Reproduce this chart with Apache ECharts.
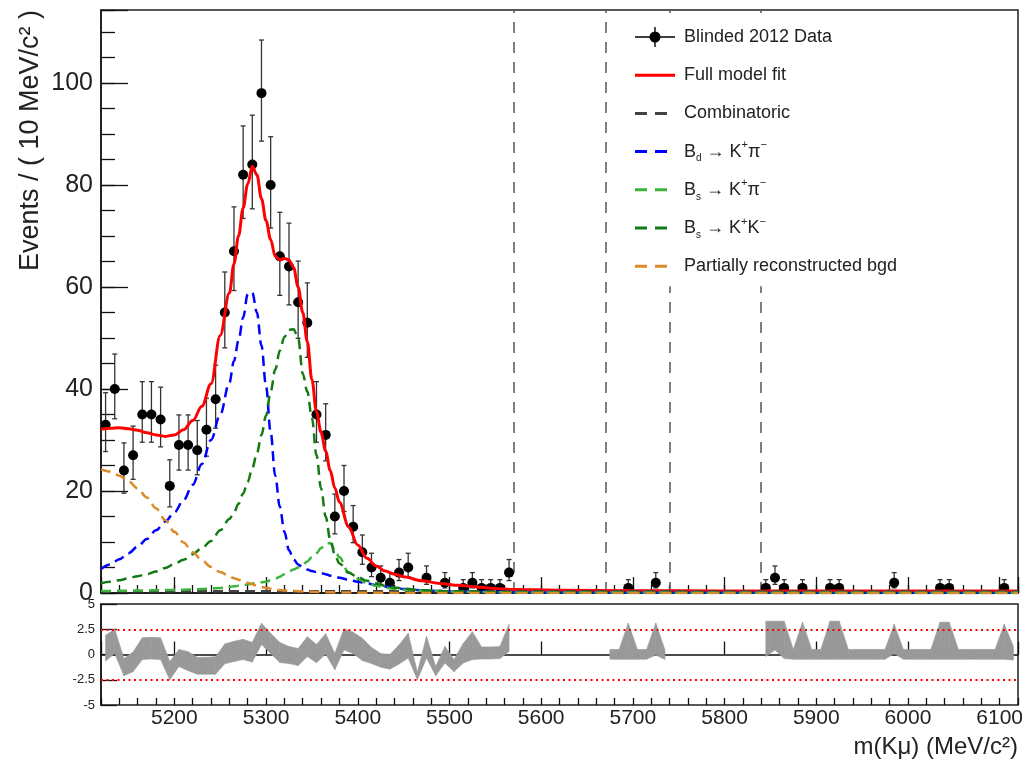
<!DOCTYPE html>
<html>
<head>
<meta charset="utf-8">
<script src="https://cdn.jsdelivr.net/npm/echarts@6/dist/echarts.min.js"></script>
<style>
html, body { margin: 0; padding: 0; background: #fff; }
#main { width: 1022px; height: 761px; }
</style>
</head>
<body>
<div id="main"></div>
<script>
var FONT = '"Liberation Sans", Arial, Helvetica, sans-serif';

// histogram: 10 MeV bins from 5120 to 6120, null = blinded bin
var binWidth = 10;
var firstBin = 5125;
var counts = [
  33, 40, 24, 27, 35, 35, 34, 21, 29, 29,
  28, 32, 38, 55, 67, 82, 84, 98, 80, 66,
  64, 57, 53, 35, 31, 15, 20, 13, 8, 5,
  3, 2, 4, 5, 0, 3, 0, 2, 0, 1,
  2, 1, 1, 1, 4,
  null, null, null, null, null, null, null, null, null, null,
  0, 0, 1, 0, 0, 2, 0,
  null, null, null, null, null, null, null, null, null, null,
  1, 3, 1, 0, 1, 0, 0, 1, 1, 0,
  0, 0, 0, 0, 2, 0, 0, 0, 0, 1,
  1, 0, 0, 0, 0, 0, 1, 0
];

// pull band (upper / lower edge) per bin
var pullHi = [
  1.9, 2.5, -0.4, 0.25, 1.65, 1.7, 1.65, -0.7, 0.5, 0.28,
  -0.28, -0.28, -0.22, 1.05, 1.3, 1.5, 1.2, 3.1, 2.1, 1.2,
  0.8, 0.6, 1.75, 1.0, 2.05, 0.1, 2.55, 2.2, 1.6, 0.7,
  0.1, 0.0, 0.95, 2.1, -1.75, 1.8, -1.2, 0.8, -0.5, 1.1,
  2.25, 0.75, 0.75, 0.8, 3.0,
  null, null, null, null, null, null, null, null, null, null,
  0.5, 0.5, 3.1, 0.5, 0.5, 3.1, 0.45,
  null, null, null, null, null, null, null, null, null, null,
  3.3, 3.3, 3.3, 0.5, 3.2, 0.5, 0.5, 3.3, 3.3, 0.5,
  0.5, 0.5, 0.5, 0.5, 3.0, 0.5, 0.5, 0.5, 0.5, 3.2,
  3.2, 0.5, 0.5, 0.5, 0.5, 0.5, 3.0, 0.8
];
var pullLo = [
  -0.65, 0.1, -2.1, -1.7, -0.5, -0.45, -0.5, -2.5, -1.2, -1.6,
  -1.95, -1.95, -1.95, -0.92, -0.7, -0.5, -0.75, 1.0, 0.1, -0.8,
  -0.9, -1.1, -0.2, -0.82, 0.05, -1.5, 0.45, 0.1, -0.6, -0.9,
  -1.25, -1.45, -0.95, -0.35, -2.5, -0.35, -2.1, -0.85, -1.7, -0.85,
  -0.5, -0.45, -0.45, -0.4, 0.3,
  null, null, null, null, null, null, null, null, null, null,
  -0.47, -0.47, -0.47, -0.47, -0.47, -0.05, -0.5,
  null, null, null, null, null, null, null, null, null, null,
  -0.2, 0.45, -0.4, -0.47, -0.47, -0.47, -0.47, -0.47, -0.47, -0.47,
  -0.47, -0.47, -0.47, -0.47, 0.1, -0.47, -0.47, -0.47, -0.47, -0.47,
  -0.47, -0.47, -0.47, -0.47, -0.47, -0.47, -0.47, -0.55
];

// fit curves, sampled at curveMass
var curveMass = [5120, 5130, 5140, 5150, 5160, 5170, 5180, 5190, 5200, 5210, 5220, 5230, 5240, 5250, 5260,
  5265, 5270, 5275, 5280, 5285, 5290, 5295, 5300, 5305, 5310, 5315, 5320, 5325, 5330, 5335, 5340,
  5345, 5350, 5355, 5360, 5365, 5370, 5375, 5380,
  5390, 5400, 5410, 5420, 5430, 5440, 5450,
  5470, 5490, 5510, 5530, 5550, 5570,
  5620, 5700, 5800, 5900, 6000, 6120];
var fitTotal = [32.1, 32.3, 32.4, 32.2, 31.9, 31.4, 31.0, 30.7, 31.0, 32.0, 33.8, 36.6, 41.0, 50.5, 58.8,
  64.5, 70.0, 75.5, 80.2, 83.6, 82.0, 77.3, 73.0, 69.3, 66.0, 65.3, 65.6, 65.3, 63.8, 60.0, 55.0,
  49.3, 41.8, 35.5, 31.5, 27.8, 24.0, 20.6, 17.8,
  13.0, 9.4, 6.8, 5.3, 4.3, 3.7, 3.2,
  2.4, 1.85, 1.5, 1.2, 0.9, 0.7,
  0.55, 0.45, 0.4, 0.4, 0.4, 0.4];
var bdKpi = [4.7, 5.6, 6.6, 7.8, 9.1, 10.6, 12.3, 14.0, 15.8, 18.2, 21.2, 25.3, 30.0, 35.0, 41.2,
  45.5, 49.5, 54.0, 58.6, 58.9, 55.0, 48.5, 40.5, 31.5, 23.0, 16.9, 12.0, 8.4, 6.6, 5.6, 5.0,
  4.6, 4.3, 4.1, 3.9, 3.7, 3.4, 3.2, 3.0,
  2.6, 2.2, 1.9, 1.55, 1.25, 1.0, 0.8,
  0.55, 0.4, 0.3, 0.25, 0.2, 0.15,
  0.1, 0.05, 0.03, 0.02, 0.02, 0.01];
var bsKpi = [0.4, 0.4, 0.45, 0.45, 0.5, 0.5, 0.55, 0.6, 0.6, 0.65, 0.7, 0.8, 0.9, 1.0, 1.2,
  1.3, 1.4, 1.5, 1.7, 1.85, 2.0, 2.1, 2.2, 2.5, 2.8, 3.2, 3.7, 4.2, 4.6, 5.0, 5.5,
  6.2, 7.0, 7.8, 8.8, 9.7, 9.8, 8.4, 7.0,
  4.0, 2.8, 1.9, 1.4, 1.05, 0.8, 0.65,
  0.45, 0.35, 0.25, 0.2, 0.15, 0.12,
  0.1, 0.08, 0.06, 0.05, 0.05, 0.04];
var bsKK = [1.9, 2.2, 2.5, 2.9, 3.3, 3.7, 4.2, 4.9, 5.7, 6.5, 7.6, 8.8, 10.2, 12.3, 14.5,
  15.8, 17.5, 19.5, 21.8, 24.5, 27.4, 31.0, 34.8, 39.5, 43.8, 47.5, 50.2, 51.6, 51.7, 50.0, 43.0,
  39.5, 34.3, 27.0, 20.5, 15.0, 10.5, 7.5, 5.8,
  4.0, 3.1, 2.4, 1.9, 1.4, 1.1, 0.85,
  0.55, 0.4, 0.3, 0.2, 0.15, 0.1,
  0.05, 0.02, 0.01, 0.01, 0.01, 0];
var partReco = [24.3, 23.8, 23.0, 21.9, 20.5, 18.7, 16.6, 14.3, 12.0, 9.9, 8.0, 6.4, 5.1, 4.1, 3.3,
  2.9, 2.6, 2.3, 2.0, 1.7, 1.4, 1.2, 1.0, 0.85, 0.7, 0.6, 0.5, 0.45, 0.4, 0.35, 0.3,
  0.27, 0.24, 0.2, 0.18, 0.16, 0.14, 0.12, 0.1,
  0.08, 0.06, 0.05, 0.04, 0.03, 0.02, 0.02,
  0.01, 0, 0, 0, 0, 0,
  0, 0, 0, 0, 0, 0];
var combMass = [5120, 6120];
var combLevel = [0.35, 0.3];

// blinded window edges
var blindEdges = [5570, 5670, 5740, 5840];

var massMin = 5120, massMax = 6120;
var yMax = 114.3;

// ---- build series data
var points = [];
var band = [];
for (var i = 0; i < counts.length; i++) {
  var m = firstBin + i * binWidth;
  var n = counts[i];
  if (n !== null && n > 0) {
    var s = Math.sqrt(n + 0.25);
    points.push([m, n, n - s + 0.5, n + s + 0.5]);
  }
  if (i + 1 < counts.length && pullHi[i] !== null && pullHi[i + 1] !== null) {
    band.push([m, pullHi[i], pullLo[i], m + binWidth, pullHi[i + 1], pullLo[i + 1]]);
  }
}
function pairs(xs, ys) {
  return xs.map(function (x, k) { return [x, ys[k]]; });
}

function renderPoint(params, api) {
  var x = api.value(0), n = api.value(1);
  var c = api.coord([x, n]);
  var l = api.coord([x - binWidth / 2, n]);
  var r = api.coord([x + binWidth / 2, n]);
  var top = api.coord([x, api.value(3)]);
  var bot = api.coord([x, api.value(2)]);
  function st() { return { stroke: '#333', lineWidth: 1.3 }; }
  return {
    type: 'group',
    children: [
      { type: 'line', shape: { x1: l[0], y1: c[1], x2: r[0], y2: c[1] }, style: st() },
      { type: 'line', shape: { x1: c[0], y1: top[1], x2: c[0], y2: bot[1] }, style: st() },
      { type: 'line', shape: { x1: c[0] - 2.5, y1: top[1], x2: c[0] + 2.5, y2: top[1] }, style: st() },
      { type: 'line', shape: { x1: c[0] - 2.5, y1: bot[1], x2: c[0] + 2.5, y2: bot[1] }, style: st() },
      { type: 'circle', shape: { cx: c[0], cy: c[1], r: 5 }, style: { fill: '#000' } }
    ]
  };
}

function renderBand(params, api) {
  var a = api.coord([api.value(0), api.value(1)]);
  var b = api.coord([api.value(3), api.value(4)]);
  var c = api.coord([api.value(3), api.value(5)]);
  var d = api.coord([api.value(0), api.value(2)]);
  return {
    type: 'polygon',
    shape: { points: [a, b, c, d] },
    style: { fill: '#999', stroke: '#999', lineWidth: 0.6 }
  };
}

function curve(name, ys, color, width, dash) {
  return {
    name: name, type: 'line', xAxisIndex: 0, yAxisIndex: 0,
    data: pairs(curveMass, ys), showSymbol: false, symbol: 'none',
    smooth: 0.35, smoothMonotone: 'x', z: 3, silent: true,
    lineStyle: { color: color, width: width, type: dash || 'solid' },
    itemStyle: { color: color }
  };
}

var tickColor = '#111';
function xAxisBase(grid, len, labels) {
  return {
    type: 'value', gridIndex: grid, min: massMin, max: massMax, position: 'bottom',
    splitLine: { show: false },
    axisLine: { show: true, lineStyle: { color: '#111', width: 1.5 } },
    axisTick: { show: true, inside: true, length: len, lineStyle: { color: tickColor, width: 1.3 } },
    axisLabel: labels ? {
      show: true, fontFamily: FONT, fontSize: 21, color: '#222', margin: 3,
      formatter: function (v) { return v % 100 === 0 ? String(v) : ''; }
    } : { show: false }
  };
}

var mainX = xAxisBase(0, 16, false); mainX.splitNumber = 10;
var mainXMinor = xAxisBase(0, 8, false); mainXMinor.interval = 20; mainXMinor.axisLine = { show: false };
var lowX = xAxisBase(1, 13, true); lowX.splitNumber = 10;
var lowXMinor = xAxisBase(1, 7, false); lowXMinor.interval = 20; lowXMinor.axisLine = { show: false };

// legend icons: bounding box fixed to 40x20 by two tiny corner squares
var CORNERS = 'M0,0h0.01v0.01h-0.01z M39.99,19.99h0.01v0.01h-0.01z ';
var dashIcon = 'path://' + CORNERS + 'M0,8.5h12v3h-12z M20,8.5h12v3h-12z';
var solidIcon = 'path://' + CORNERS + 'M0,8.5h40v3h-40z';
var dataIcon = 'path://' + CORNERS + 'M0,9.3h40v1.4h-40z M19.3,0h1.4v20h-1.4z M25.5,10A5.5,5.5 0 1 1 14.5,10A5.5,5.5 0 1 1 25.5,10z';

var myChart = echarts.init(document.getElementById('main'));
myChart.setOption({
  animation: false,
  backgroundColor: '#fff',
  grid: [
    { left: 101, top: 10, width: 917, height: 583, show: true, borderColor: '#222', borderWidth: 1.5, backgroundColor: 'transparent', outerBoundsMode: 'none' },
    { left: 101, top: 604, width: 917, height: 101, show: true, borderColor: '#222', borderWidth: 1.5, backgroundColor: 'transparent', outerBoundsMode: 'none' }
  ],
  xAxis: [mainX, mainXMinor, lowX, lowXMinor],
  yAxis: [
    {
      type: 'value', gridIndex: 0, min: 0, max: yMax, interval: 5, position: 'left',
      splitLine: { show: false }, axisLine: { show: false }, axisLabel: { show: false },
      axisTick: { show: true, inside: true, length: 14, lineStyle: { color: tickColor, width: 1.3 } }
    },
    {
      type: 'value', gridIndex: 0, min: 0, max: yMax, interval: 20, position: 'left',
      splitLine: { show: false },
      axisLine: { show: true, lineStyle: { color: '#111', width: 1.5 } },
      axisTick: { show: true, inside: true, length: 27, lineStyle: { color: tickColor, width: 1.3 } },
      axisLabel: {
        fontFamily: FONT, fontSize: 25, color: '#222', margin: 8,
        formatter: function (v) { return v % 20 === 0 ? String(v) : ''; }
      }
    },
    {
      type: 'value', gridIndex: 1, min: -5, max: 5, interval: 2.5, position: 'left',
      splitLine: { show: false },
      axisLine: { show: true, lineStyle: { color: '#111', width: 1.5 } },
      axisTick: { show: true, inside: true, length: 16, lineStyle: { color: tickColor, width: 1.3 } },
      axisLabel: { fontFamily: FONT, fontSize: 13, color: '#222', margin: 6 }
    }
  ],
  legend: {
    orient: 'vertical', left: 625, top: 17, z: 20,
    padding: [8, 14, 8, 10], backgroundColor: '#fff',
    itemWidth: 40, itemHeight: 20, itemGap: 14.2, selectedMode: false,
    textStyle: {
      fontFamily: FONT, fontSize: 18, color: '#222', lineHeight: 24, padding: [0, 0, 0, 4],
      rich: {
        sub: { fontFamily: FONT, fontSize: 10, lineHeight: 12, verticalAlign: 'bottom', color: '#222' },
        sup: { fontFamily: FONT, fontSize: 11, lineHeight: 12, verticalAlign: 'top', color: '#222' }
      }
    },
    formatter: function (name) {
      var labels = {
        'Bd_Kpi': 'B{sub|d} \u2192 K{sup|+}\u03c0{sup|\u2212}',
        'Bs_Kpi': 'B{sub|s} \u2192 K{sup|+}\u03c0{sup|\u2212}',
        'Bs_KK': 'B{sub|s} \u2192 K{sup|+}K{sup|\u2212}'
      };
      return labels[name] || name;
    },
    data: [
      { name: 'Blinded 2012 Data', icon: dataIcon, itemStyle: { color: '#000' } },
      { name: 'Full model fit', icon: solidIcon, itemStyle: { color: '#ff0000' } },
      { name: 'Combinatoric', icon: dashIcon, itemStyle: { color: '#444' } },
      { name: 'Bd_Kpi', icon: dashIcon, itemStyle: { color: '#0000ff' } },
      { name: 'Bs_Kpi', icon: dashIcon, itemStyle: { color: '#3cb43c' } },
      { name: 'Bs_KK', icon: dashIcon, itemStyle: { color: '#137a13' } },
      { name: 'Partially reconstructed bgd', icon: dashIcon, itemStyle: { color: '#dc8a2c' } }
    ]
  },
  graphic: [
    {
      type: 'text', x: 31, y: 10, rotation: Math.PI / 2,
      style: { text: 'Events / ( 10 MeV/c\u00b2 )', fontFamily: FONT, fontSize: 27, fill: '#222', align: 'right', verticalAlign: 'middle' }
    },
    {
      type: 'text', x: 1018, y: 747,
      style: { text: 'm(K\u03bc) (MeV/c\u00b2)', fontFamily: FONT, fontSize: 24, fill: '#222', align: 'right', verticalAlign: 'middle' }
    }
  ],
  series: [
    {
      name: 'Blinded 2012 Data', type: 'custom', xAxisIndex: 0, yAxisIndex: 0,
      data: points, encode: { x: 0, y: [1, 2, 3] }, renderItem: renderPoint,
      itemStyle: { color: '#000' }, z: 2, clip: true, silent: true
    },
    curve('Full model fit', fitTotal, '#ff0000', 3),
    {
      name: 'Combinatoric', type: 'line', xAxisIndex: 0, yAxisIndex: 0,
      data: pairs(combMass, combLevel), showSymbol: false, symbol: 'none', z: 3, silent: true,
      lineStyle: { color: '#444', width: 2.5, type: [10, 6] }, itemStyle: { color: '#444' },
      markLine: {
        silent: true, symbol: 'none', label: { show: false }, z: 1,
        lineStyle: { color: '#555', width: 1.5, type: [11, 9] },
        data: blindEdges.map(function (v) { return { xAxis: v }; })
      }
    },
    curve('Bd_Kpi', bdKpi, '#0000ff', 2.5, [10, 6]),
    curve('Bs_Kpi', bsKpi, '#3cb43c', 2.5, [10, 6]),
    curve('Bs_KK', bsKK, '#137a13', 2.5, [10, 6]),
    curve('Partially reconstructed bgd', partReco, '#dc8a2c', 2.5, [10, 6]),
    {
      name: 'pull', type: 'custom', xAxisIndex: 2, yAxisIndex: 2,
      data: band, encode: { x: [0, 3], y: [1, 2, 4, 5] }, renderItem: renderBand,
      clip: true, silent: true, z: 2,
      markLine: {
        silent: true, symbol: 'none', label: { show: false },
        lineStyle: { color: '#ff0000', width: 2, type: [2, 3.5] },
        data: [{ yAxis: 2.5 }, { yAxis: -2.5 }]
      }
    }
  ]
});
</script>
</body>
</html>
